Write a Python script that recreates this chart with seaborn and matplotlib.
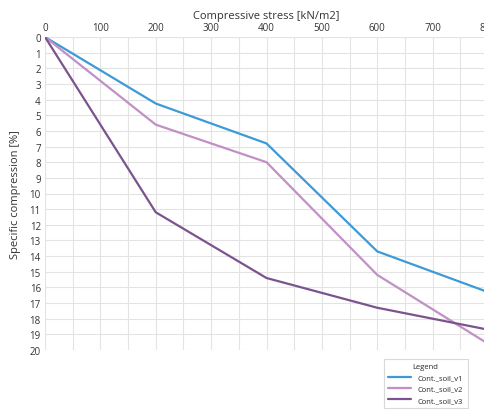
import matplotlib
matplotlib.use("Agg")
import matplotlib.pyplot as plt
import seaborn as sns
import pandas as pd
import numpy as np

stress = [0, 200, 400, 600, 800]
soil_v1 = [0, 4.25, 6.8, 13.7, 16.3]
soil_v2 = [0, 5.6, 8.0, 15.2, 19.6]
soil_v3 = [0, 11.2, 15.4, 17.3, 18.7]
names = ["Cont._soil_v1", "Cont._soil_v2", "Cont._soil_v3"]
colors = ["#3d9ad6", "#c190c4", "#7b548e"]

df = pd.DataFrame({
    "stress": stress * 3,
    "value": soil_v1 + soil_v2 + soil_v3,
    "series": [names[0]] * 5 + [names[1]] * 5 + [names[2]] * 5,
})

sns.set_style("white")
plt.rcParams['font.family'] = ['Open Sans', 'DejaVu Sans']

fig = plt.figure(figsize=(4.85, 4.14), dpi=100)
ax = fig.add_axes([45/485, 1 - 351/414, (488 - 45)/485, (351 - 38)/414])

sns.lineplot(data=df, x="stress", y="value", hue="series", palette=colors,
             linewidth=1.6, ax=ax, legend=False)

ax.set_xlim(0, 800)
ax.set_ylim(20, 0)
ax.xaxis.tick_top()
ax.xaxis.set_label_position("top")
ax.set_xticks(np.arange(0, 801, 100))
ax.set_xticks(np.arange(0, 801, 50), minor=True)
ax.set_yticks(np.arange(0, 21, 1))
ax.grid(True, which="both", color="#e3e3e3", linewidth=0.8)
ax.tick_params(axis="both", which="both", length=0, labelsize=7, colors="#333333", pad=3)
ax.set_xlabel("Compressive stress [kN/m2]", fontsize=8, color="#333333", labelpad=3)
ax.set_ylabel("Specific compression [%]", fontsize=8, color="#333333", labelpad=6)
for s in ax.spines.values():
    s.set_visible(False)

from matplotlib.lines import Line2D
handles = [Line2D([0], [0], color=c, lw=1.6) for c in colors]
leg = fig.legend(handles, names, title="Legend", loc="upper left",
                 bbox_to_anchor=(380/485, 1 - 356/414), fontsize=5.5,
                 title_fontsize=5.5, frameon=True, handlelength=3,
                 borderpad=0.6, labelspacing=0.5, fancybox=False)
leg.get_frame().set_edgecolor("#d0d0d0")
leg.get_frame().set_linewidth(0.8)

fig.savefig("out.png", dpi=100)
